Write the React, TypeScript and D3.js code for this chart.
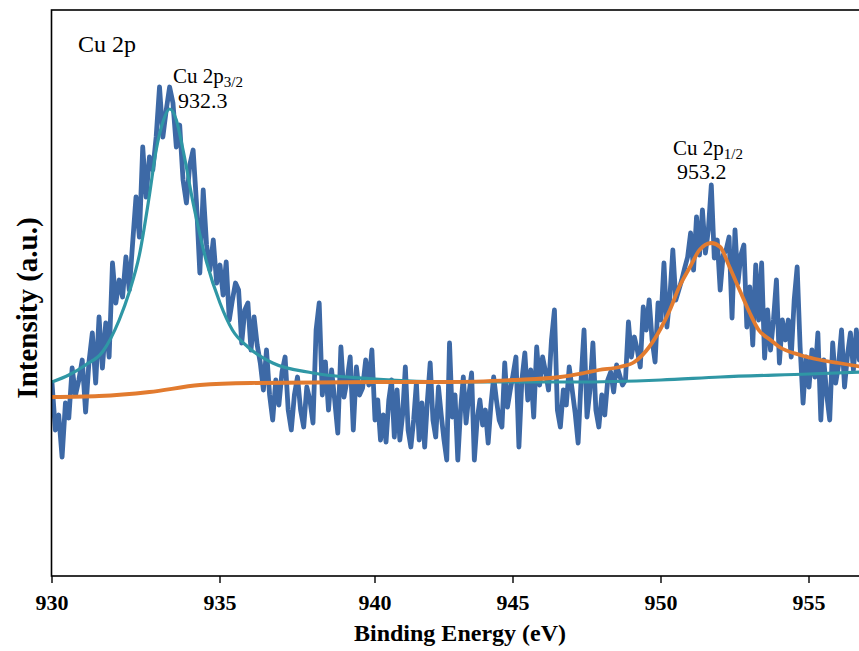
import React from 'react';
import * as d3 from 'd3';

// Binding energy grid: 930.0 .. 956.7 eV, 0.1 eV step
const energyStart = 930.0;
const energyStep = 0.1;

// Raw Cu 2p spectrum intensity (a.u.)
const rawIntensity: number[] = [
  // 930.0 - 935.0
  193,146,161,119,173,158,208,181,196,216,
  164,214,243,193,259,208,253,219,313,273,
  296,279,319,286,333,379,339,429,379,419,
  406,439,489,439,466,489,473,429,451,396,
  373,411,426,373,303,386,331,306,336,293,
  311,
  // 935.1 - 940.0
  281,314,256,276,293,286,233,266,273,226,
  259,231,213,186,226,181,156,196,171,204,
  219,166,146,181,199,166,149,189,176,153,
  246,273,181,214,166,206,176,143,229,179,
  196,219,146,209,181,188,216,191,226,156,
  // 940.1 - 945.0
  176,136,161,134,176,196,139,186,136,161,
  209,146,129,156,193,136,173,129,176,213,
  156,139,189,161,136,116,233,159,181,116,
  166,199,153,181,203,116,156,176,151,166,
  133,171,199,176,156,149,213,169,186,201,
  // 945.1 - 950.0
  219,129,196,223,176,206,159,229,191,219,
  204,186,236,266,166,149,186,171,209,186,
  163,133,196,246,159,186,233,166,149,181,
  161,196,204,184,211,201,191,196,254,219,
  239,226,209,269,246,276,236,214,273,256,
  // 950.1 - 956.7
  313,249,279,326,276,286,296,308,319,343,
  306,359,321,366,323,346,391,318,336,286,
  321,326,339,258,346,293,321,331,249,289,
  231,311,256,313,218,266,226,256,296,213,
  256,236,256,219,276,309,229,173,219,189,
  226,199,243,156,216,181,156,233,193,211,
  246,189,221,243,206,246,216,
];

// Cu 2p3/2 fitted envelope
const fit32Energy = [930.0,930.5,931.0,931.5,932.0,932.3,932.6,932.9,933.1,933.3,933.5,933.7,933.9,934.2,934.6,935.0,935.4,935.9,936.7,938.0,940.0,943.0,947.0,950.0,952.0,955.0,956.8];
const fit32Value = [194,201,211,224,256,284,321,381,426,454,467,456,426,373,314,273,246,229,213,203,197,194,194,196,199,202,204];

// Cu 2p1/2 fitted envelope
const fit12Energy = [930.0,931.4,932.9,934.4,936.0,940.0,942.7,945.0,946.6,947.4,947.9,948.6,949.1,949.6,950.0,950.3,950.6,951.0,951.3,951.7,952.0,952.3,952.7,953.0,953.3,953.7,954.0,954.7,955.4,956.0,956.8];
const fit12Value = [179,180,184,191,193,194,194,196,199,203,206,209,214,229,248,266,288,310,326,333,329,310,283,263,246,236,229,221,216,213,209];

const xTicks = [930, 935, 940, 945, 950, 955];

const W = 859;
const H = 651;
const FONT = '"Liberation Serif", "Times New Roman", serif';

export default function App() {
  const left = 52, top = 10, bottom = 576, right = 880;
  const x = d3.scaleLinear()
    .domain(xTicks)
    .range([52, 220, 375, 513, 661, 809]);
  const y = d3.scaleLinear().domain([0, 566]).range([bottom, top]);

  const raw = rawIntensity.map((v, i) => ({ e: energyStart + i * energyStep, v }));
  const f32 = fit32Energy.map((e, i) => ({ e, v: fit32Value[i] }));
  const f12 = fit12Energy.map((e, i) => ({ e, v: fit12Value[i] }));

  const rawLine = d3.line<{ e: number; v: number }>().x(d => x(d.e)).y(d => y(d.v));
  const fitLine = d3.line<{ e: number; v: number }>().x(d => x(d.e)).y(d => y(d.v)).curve(d3.curveMonotoneX);

  return (
    <svg width={W} height={H} style={{ position: 'absolute', left: 0, top: 0, background: '#fff' }}>
      <defs>
        <clipPath id="plotclip">
          <rect x={left} y={top} width={right - left} height={bottom - top} />
        </clipPath>
      </defs>
      <rect x={0} y={0} width={W} height={H} fill="#fff" />
      <g clipPath="url(#plotclip)">
        <path d={rawLine(raw) || ''} fill="none" stroke="#3d69a6" strokeWidth={4.8} strokeLinejoin="round" strokeLinecap="round" />
        <path d={fitLine(f32) || ''} fill="none" stroke="#2f97a5" strokeWidth={3.2} />
        <path d={fitLine(f12) || ''} fill="none" stroke="#e27b2f" strokeWidth={3.8} />
      </g>
      <rect x={left - 0.5} y={top} width={right - left} height={bottom - top} fill="none" stroke="#000" strokeWidth={1.6} />
      {xTicks.map(t => (
        <g key={t}>
          <line x1={x(t)} x2={x(t)} y1={bottom} y2={bottom + 7} stroke="#000" strokeWidth={1.4} />
          <text x={x(t)} y={610} textAnchor="middle" fontFamily={FONT} fontWeight="bold" fontSize={22}>{t}</text>
        </g>
      ))}
      <text x={460} y={641} textAnchor="middle" fontFamily={FONT} fontWeight="bold" fontSize={24}>Binding Energy (eV)</text>
      <text transform="translate(37,308) rotate(-90)" textAnchor="middle" fontFamily={FONT} fontWeight="bold" fontSize={29}>Intensity (a.u.)</text>
      <text x={78} y={52} fontFamily={FONT} fontSize={24}>Cu 2p</text>
      <text x={173} y={83} fontFamily={FONT} fontSize={21}>Cu 2p<tspan fontSize={15} dy={4}>3/2</tspan></text>
      <text x={178} y={108} fontFamily={FONT} fontSize={22}>932.3</text>
      <text x={673} y={155} fontFamily={FONT} fontSize={21}>Cu 2p<tspan fontSize={15} dy={4}>1/2</tspan></text>
      <text x={677} y={179} fontFamily={FONT} fontSize={22}>953.2</text>
    </svg>
  );
}
